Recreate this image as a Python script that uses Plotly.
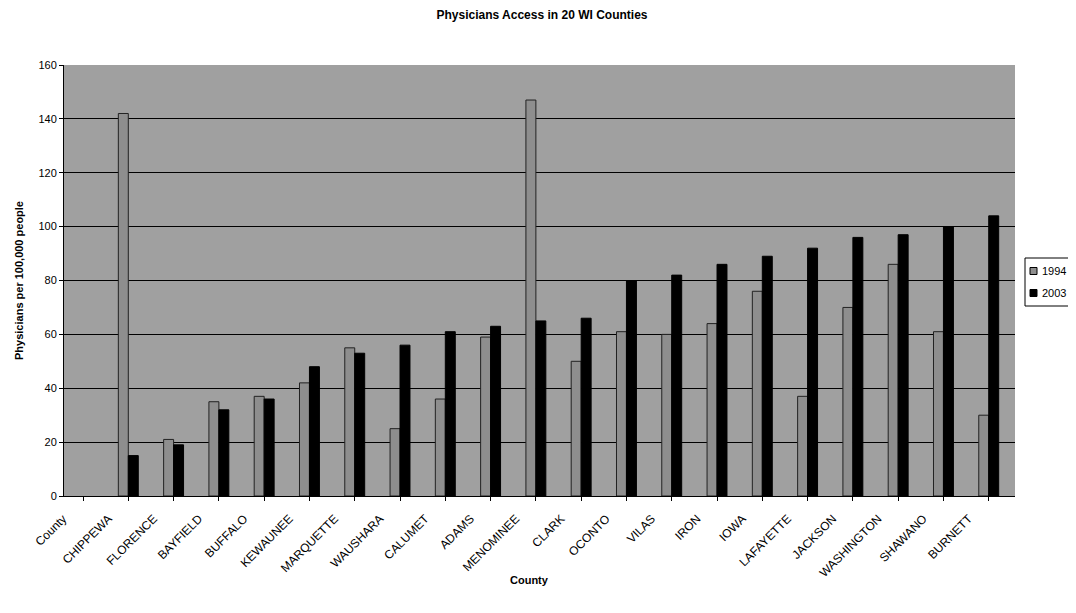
import plotly.graph_objects as go

counties = ["County", "CHIPPEWA", "FLORENCE", "BAYFIELD", "BUFFALO", "KEWAUNEE",
            "MARQUETTE", "WAUSHARA", "CALUMET", "ADAMS", "MENOMINEE", "CLARK",
            "OCONTO", "VILAS", "IRON", "IOWA", "LAFAYETTE", "JACKSON",
            "WASHINGTON", "SHAWANO", "BURNETT"]
y1994 = [None, 142, 21, 35, 37, 42, 55, 25, 36, 59, 147, 50, 61, 60, 64, 76, 37, 70, 86, 61, 30]
y2003 = [None, 15, 19, 32, 36, 48, 53, 56, 61, 63, 65, 66, 80, 82, 86, 89, 92, 96, 97, 100, 104]
yticks = [0, 20, 40, 60, 80, 100, 120, 140, 160]
series_names = ["1994", "2003"]
series_colors = ["#8e8e8e", "#000000"]

font = "Liberation Sans, Arial, sans-serif"

# page body has an 8px margin; figure sized to fit the window
W, H = 1068, 605
L, R, T, B = 56, 61, 57, 117
plot_w = W - L - R
plot_h = H - T - B

fig = go.Figure()
fig.add_trace(go.Bar(name=series_names[0], x=counties, y=y1994, showlegend=False,
                     marker=dict(color=series_colors[0], line=dict(color="#222222", width=1))))
fig.add_trace(go.Bar(name=series_names[1], x=counties, y=y2003, showlegend=False,
                     marker=dict(color=series_colors[1], line=dict(color="#000000", width=1))))

def px_x(px):  # absolute page pixel -> paper x
    return (px - 8 - L) / plot_w
def px_y(py):  # absolute page pixel -> paper y
    return 1 - (py - 8 - T) / plot_h

# compact legend to the right of the plot area
fig.add_shape(type="rect", xref="paper", yref="paper",
              x0=px_x(1025), x1=px_x(1074), y0=px_y(306), y1=px_y(258),
              line=dict(color="black", width=1), fillcolor="white")
for i, (nm, col) in enumerate(zip(series_names, series_colors)):
    cy = 271 + i * 22
    fig.add_shape(type="rect", xref="paper", yref="paper",
                  x0=px_x(1030), x1=px_x(1037), y0=px_y(cy + 3.5), y1=px_y(cy - 3.5),
                  line=dict(color="black", width=1), fillcolor=col)
    fig.add_annotation(xref="paper", yref="paper", x=px_x(1040), y=px_y(cy),
                       text=nm, showarrow=False, xanchor="left", yanchor="middle",
                       font=dict(family=font, size=11, color="black"))

# x-axis title
fig.add_annotation(xref="paper", yref="paper", x=px_x(529), y=px_y(580),
                   text="<b>County</b>", showarrow=False, xanchor="center", yanchor="middle",
                   font=dict(family=font, size=11, color="black"))

fig.update_layout(
    width=W, height=H,
    margin=dict(l=L, r=R, t=T, b=B, autoexpand=False),
    paper_bgcolor="white",
    plot_bgcolor="#a0a0a0",
    barmode="group",
    bargap=0.56,
    bargroupgap=0.0,
    showlegend=False,
    title=dict(text="<b>Physicians Access in 20 WI Counties</b>", x=0.5, xanchor="center",
               y=1 - 7 / H, yanchor="middle", font=dict(family=font, size=12, color="black")),
    font=dict(family=font, size=11, color="black"),
    xaxis=dict(range=[-0.42, 20.58],
               tickangle=-45, tickfont=dict(family=font, size=12, color="black"),
               ticklabelshift=-20, ticklabelstandoff=6,
               showline=True, linecolor="black", linewidth=1, automargin=False,
               ticks="outside", ticklen=4, tickcolor="black", showgrid=False),
    yaxis=dict(title=dict(text="<b>Physicians per 100,000 people</b>", font=dict(family=font, size=11, color="black"), standoff=12),
               range=[0, 160], tickvals=yticks, ticktext=[str(v) for v in yticks],
               tickfont=dict(family=font, size=11, color="black"), automargin=False,
               showgrid=True, gridcolor="black", gridwidth=1,
               showline=True, linecolor="black", linewidth=1,
               ticks="outside", ticklen=4, tickcolor="black", zeroline=False),
)

fig.write_html("out.html")
